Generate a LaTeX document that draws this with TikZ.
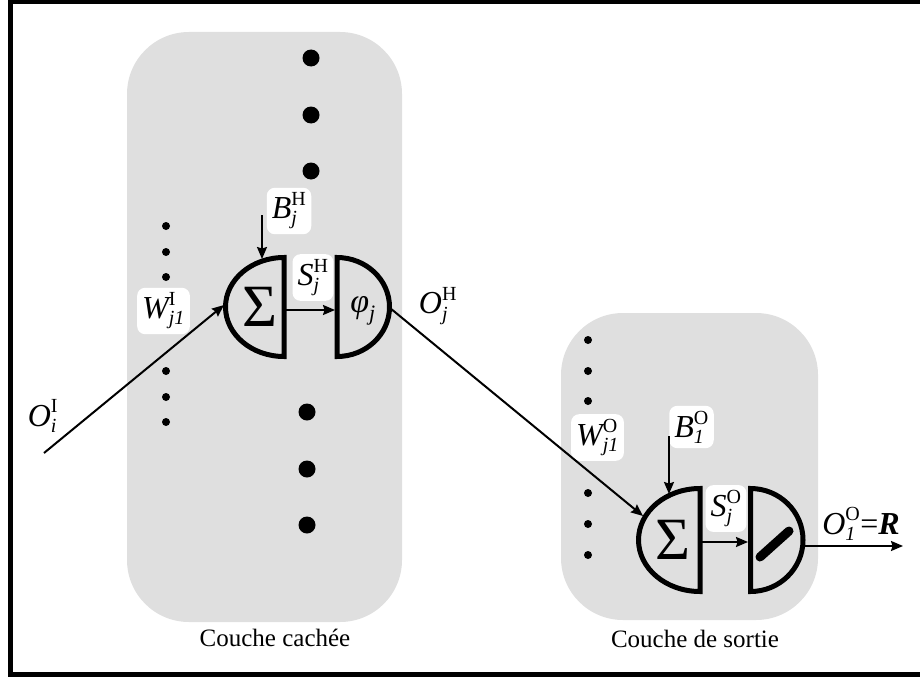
\documentclass[tikz,border=0pt]{standalone}
\usepackage{amsmath}
\usepackage{fontspec}
\setmainfont{Liberation Serif}
\usetikzlibrary{arrows.meta}
\definecolor{layergrey}{HTML}{DFDFDF}
\DeclareMathSizes{32}{32}{20}{14}
\DeclareMathSizes{34}{34}{22}{15}

\begin{document}
\begin{tikzpicture}[x=1pt, y=-1pt,
    layer/.style={fill=layergrey, rounded corners=62pt},
    cell/.style={line width=5pt},
    conn/.style={-{Stealth[length=12pt, width=10pt, inset=1.5pt]}, line width=2pt},
    lab/.style={fill=white, rounded corners=8pt, inner sep=5pt,
      font=\fontsize{32}{36}\selectfont},
    plain/.style={inner sep=0pt, font=\fontsize{32}{36}\selectfont},
    caption/.style={font=\fontsize{25}{28}\selectfont},
    bigsym/.style={inner sep=0pt, font=\fontsize{60}{64}\selectfont},
    bigdot/.style={circle, fill=black, inner sep=0pt, minimum size=17pt},
    smalldot/.style={circle, fill=black, inner sep=0pt, minimum size=8pt}
  ]
  \useasboundingbox (0,0) rectangle (920,677);
  \draw[line width=4.5pt] (10.5,2) rectangle (940,674.5);

  \fill[layer] (127,32) rectangle (402,622);
  \fill[layer] (561,313) rectangle (818,620);
  \node[caption] (hidcap) at (275,638) {Couche cachée};
  \node[caption] (outcap) at (695,639) {Couche de sortie};

  \foreach \y [count=\k] in {58,115,171} \node[bigdot] (bdtop\k) at (311,\y) {};
  \foreach \y [count=\k] in {412,469,525} \node[bigdot] (bdbot\k) at (307,\y) {};
  \foreach \y [count=\k] in {226,252,277,371,397,422} \node[smalldot] (sdH\k) at (166,\y) {};
  \foreach \y [count=\k] in {340,371,401,493,524,555} \node[smalldot] (sdO\k) at (588,\y) {};

  \coordinate (sumH) at (284,307);
  \coordinate (actH) at (337,307);
  \coordinate (sumO) at (700,540);
  \coordinate (actO) at (750.5,540);
  \draw[cell] (sumH) ++(0,-49.5) arc[start angle=270, end angle=90, x radius=58.5, y radius=49.5] -- cycle;
  \draw[cell] (actH) ++(0,-49.5) arc[start angle=-90, end angle=90, x radius=52.5, y radius=49.5] -- cycle;
  \draw[cell] (sumO) ++(0,-51.5) arc[start angle=270, end angle=90, x radius=61.5, y radius=51.5] -- cycle;
  \draw[cell] (actO) ++(0,-51.5) arc[start angle=-90, end angle=90, x radius=52.5, y radius=51.5] -- cycle;
  \node[bigsym] (sigH) at (259.5,306.5) {Σ};
  \node[bigsym] (sigO) at (673,540) {Σ};
  \node[plain, font=\fontsize{34}{38}\selectfont] (phiH) at (363,311) {$\textit{φ}_{\textit{j}}$};
  \draw[line width=9pt, line cap=round] (760,557) -- (789,531);

  \node[plain] (oI) at (43,416) {$\textit{O}^{\textrm{I}}_{\textit{i}}$};
  \node[lab] (wI) at (163.5,311) {$\textit{W}^{\textrm{I}}_{\textit{j1}}$};
  \node[lab] (bH) at (289,211) {$\textit{B}^{\textrm{H}}_{\textit{j}}$};
  \node[lab] (sH) at (313,277.5) {$\textit{S}^{\textrm{H}}_{\textit{j}}$};
  \node[plain] (oH) at (438,306) {$\textit{O}^{\textrm{H}}_{\textit{j}}$};
  \node[lab] (wO) at (597.5,437.5) {$\textit{W}^{\textrm{O}}_{\textit{j1}}$};
  \node[lab] (bO) at (691.5,427) {$\textit{B}^{\textrm{O}}_{\textit{1}}$};
  \node[lab] (sO) at (726,508.5) {$\textit{S}^{\textrm{O}}_{\textit{j}}$};
  \node[plain] (oO) at (861,524) {$\textit{O}^{\textrm{O}}_{\textit{1}}$=\textbf{\textit{R}}};

  \coordinate (inI) at (44,453);
  \coordinate (sumH-w) at (224,305);
  \coordinate (bH-src) at (262,215);
  \coordinate (sumH-n) at (262,259);
  \coordinate (sumH-e) at (284,310);
  \coordinate (actH-w) at (335,310);
  \coordinate (actH-e) at (390,308);
  \coordinate (sumO-nw) at (643,516);
  \coordinate (bO-src) at (669,436);
  \coordinate (sumO-n) at (669,494);
  \coordinate (sumO-e) at (700,542);
  \coordinate (actO-w) at (748,542);
  \coordinate (actO-e) at (803,546);
  \coordinate (outR) at (903,546);

  \draw[conn] (inI) -- (sumH-w);
  \draw[conn] (bH-src) -- (sumH-n);
  \draw[conn] (sumH-e) -- (actH-w);
  \draw[conn] (actH-e) -- (sumO-nw);
  \draw[conn] (bO-src) -- (sumO-n);
  \draw[conn] (sumO-e) -- (actO-w);
  \draw[conn] (actO-e) -- (outR);
\end{tikzpicture}
\end{document}
